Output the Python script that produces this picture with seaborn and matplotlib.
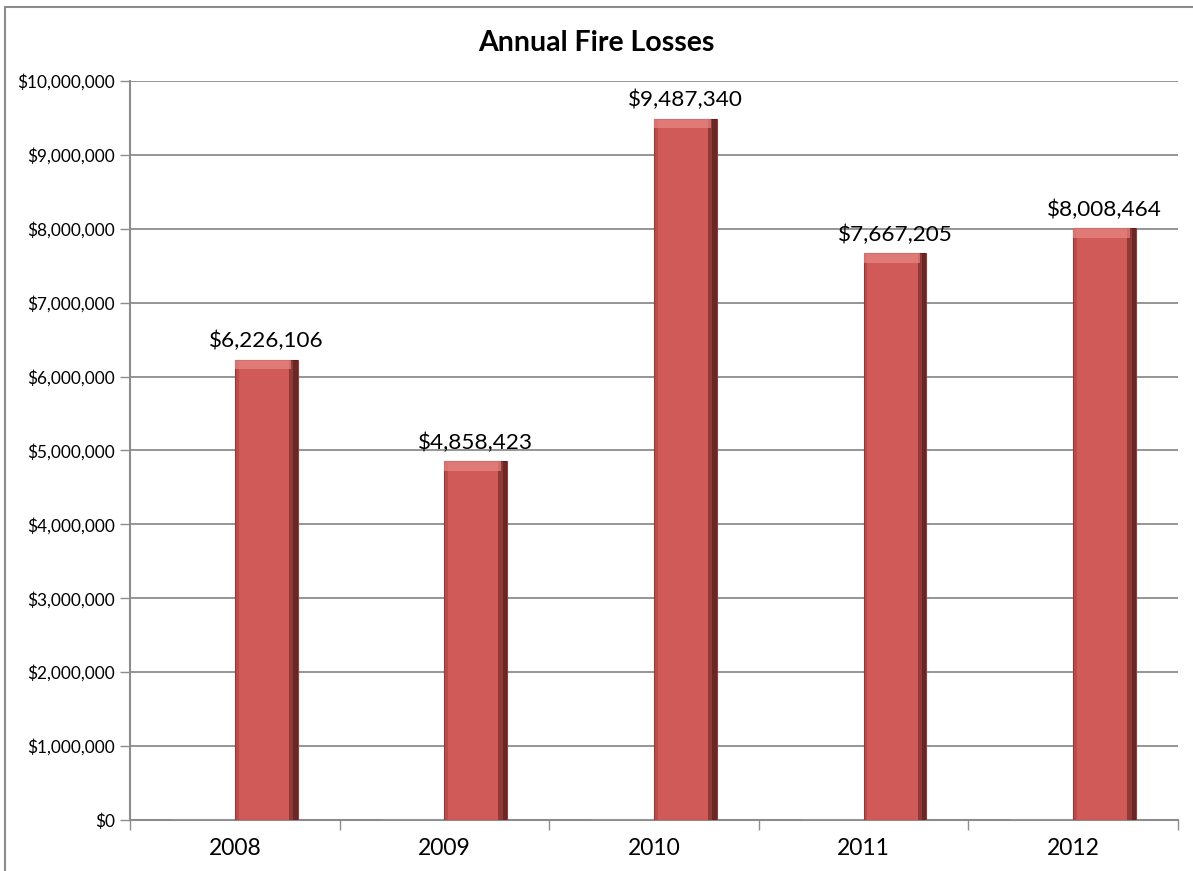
"""Annual fire losses bar chart, Excel-style look."""

import matplotlib

matplotlib.use("Agg")
import matplotlib.pyplot as plt
import numpy as np
import pandas as pd
import seaborn as sns
from matplotlib.patches import Rectangle
from matplotlib.ticker import FuncFormatter, MultipleLocator

years = ["2008", "2009", "2010", "2011", "2012"]
losses = [6226106, 4858423, 9487340, 7667205, 8008464]
blank_series = [0, 0, 0, 0, 0]
series_names = ["Blank", "Losses"]

BAR_RED = "#CF5A57"
GRID = "#8C8C8C"

df = pd.DataFrame(
    {
        "year": years * 2,
        "series": [series_names[0]] * len(years) + [series_names[1]] * len(years),
        "value": blank_series + losses,
    }
)

sns.set_theme(style="white")
plt.rcParams["font.family"] = ["Lato", "DejaVu Sans"]
plt.rcParams["text.color"] = "black"
plt.rcParams["xtick.labelcolor"] = "black"
plt.rcParams["ytick.labelcolor"] = "black"

fig = plt.figure(figsize=(11.93, 8.71), dpi=100)
ax = fig.add_axes([0.109, 0.0586, 0.8784, 0.8484])

sns.barplot(
    data=df,
    x="year",
    y="value",
    hue="series",
    hue_order=series_names,
    palette={"Blank": "#DCE6F2", "Losses": BAR_RED},
    width=0.6,
    gap=0,
    saturation=1,
    legend=False,
    ax=ax,
    zorder=3,
)

# zero series shows only as a faint line on the baseline
for p in ax.containers[0]:
    p.set_edgecolor("#B9CDE5")
    p.set_linewidth(1.0)

# fake bevel on the loss bars
for p in ax.containers[1]:
    p.set_edgecolor("#9A3B38")
    p.set_linewidth(0.8)
    x, w, h = p.get_x(), p.get_width(), p.get_height()
    ax.add_patch(Rectangle((x + w * 0.86, 0), w * 0.14, h, color="#5E1F1E", alpha=0.55, zorder=4, lw=0))
    ax.add_patch(Rectangle((x + w * 0.93, 0), w * 0.07, h, color="#2E0F0E", alpha=0.4, zorder=4, lw=0))
    ax.add_patch(Rectangle((x, 0), w * 0.06, h, color="#8E3634", alpha=0.35, zorder=4, lw=0))
    ax.add_patch(Rectangle((x, h - 130000), w * 0.9, 130000, color="#E88885", alpha=0.7, zorder=4, lw=0))

ax.bar_label(
    ax.containers[1],
    labels=[f"${v:,.0f}" for v in losses],
    padding=6,
    fontsize=16.2,
    color="black",
)

ax.set_ylim(0, 10_000_000)
ax.set_xlim(-0.5, len(years) - 0.5)
ax.yaxis.set_major_locator(MultipleLocator(1_000_000))
ax.yaxis.set_major_formatter(FuncFormatter(lambda v, _: f"${v:,.0f}"))
ax.grid(axis="y", color=GRID, linewidth=1.3, zorder=0)
ax.set_axisbelow(True)

ax.set_xlabel("")
ax.set_ylabel("")
ax.tick_params(axis="y", direction="out", length=7, width=1, color=GRID, labelsize=12.4, pad=4, left=True)
ax.tick_params(axis="x", which="major", length=0, labelsize=16.5, pad=13)
ax.set_xticks(np.arange(-0.5, len(years), 1.0), minor=True)
ax.tick_params(axis="x", which="minor", direction="out", length=7, width=1, color=GRID, bottom=True)

for side in ["top", "right"]:
    ax.spines[side].set_visible(False)
for side in ["left", "bottom"]:
    ax.spines[side].set_color(GRID)
    ax.spines[side].set_linewidth(1.5)

fig.text(0.5, 0.951, "Annual Fire Losses", ha="center", va="center", fontsize=20.5,
         fontweight="bold", color="black")

# chart area border
fig.patches.append(
    Rectangle((5 / 1193, -0.05), 1.2, 1 - 7 / 871 + 0.05, transform=fig.transFigure,
              fill=False, edgecolor="#8C8C8C", linewidth=1.5)
)

fig.savefig("out.png", dpi=100)
